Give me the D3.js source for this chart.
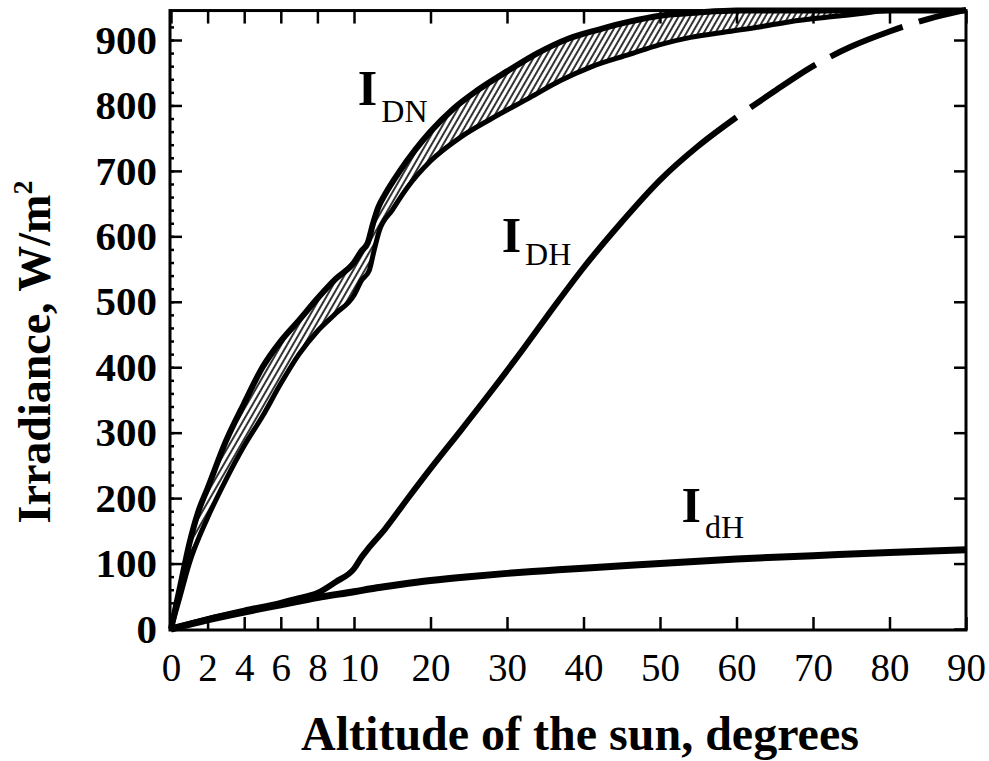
<!DOCTYPE html>
<html>
<head>
<meta charset="utf-8">
<script src="https://cdn.jsdelivr.net/npm/d3@7"></script>
<style>
  body { margin: 0; background: #fff; }
  text { font-family: "Liberation Serif", "Times New Roman", serif; fill: #000; }
</style>
</head>
<body>
<div id="chart"></div>
<script>
// tick values (x axis is stretched between 0 and 10 degrees)
const xTicks = [0, 2, 4, 6, 8, 10, 20, 30, 40, 50, 60, 70, 80, 90];
const yTicks = [0, 100, 200, 300, 400, 500, 600, 700, 800, 900];

// [altitude in degrees, irradiance W/m2]
const dnUpper = [[0,0],[0.5,65],[1,130],[1.5,180],[2,215],[3,287],[4,345],[5,400],[6,440],[7,472],[8,505],
  [9,535],[10,560],[11,578],[11.8,590],[12.5,620],[13.2,645],[14,663],[16,700],[18,732],[20,760],
  [23,795],[26,822],[30,852],[34,880],[38,902],[42,916],[46,928],[50,937],[55,942],[60,945],[90,945]];
const dnLower = [[0,0],[0.5,50],[1,100],[2,170],[3,228],[4,280],[5,325],[6,375],[7,420],[8,455],
  [9,482],[10,510],[11,533],[12,548],[12.6,577],[13.3,608],[15,640],[17,675],[20,715],[24,752],
  [28,780],[33,812],[37,838],[41,859],[46,878],[50,893],[54,904],[59,913],[63,920],[67,928],
  [72,935],[76,940],[80,945],[90,945]];
const dhDirect = [[0,0],[2,15],[4,28],[6,40],[7,47],[8,55],[9,72],[10,92],[11,110],[12,125],
  [14,152],[17,199],[20,245],[24,304],[28,364],[32,426],[36,490],[40,552],[45,622],[50,686],
  [55,738],[60,782],[65,822],[70,860],[75,890],[80,913],[85,932],[90,946]];
const dhDiffuse = [[0,0],[2,14],[4,26],[6,37],[8,48],[10,57],[13,63],[16,68],[20,74],[25,80],
  [30,85],[35,89],[40,93],[50,100],[60,107],[70,112],[80,117],[90,121]];

const curveLabels = [
  { sub: "DN", alt: 10.5, val: 801, dy: 17 },
  { sub: "DH", alt: 29.3, val: 576, dy: 13 },
  { sub: "dH", alt: 52.8, val: 163, dy: 16 }
];

const width = 989, height = 761;
const topVal = 945;

const x = d3.scaleLinear().domain([0, 10, 90]).range([171, 354, 966]);
const y = d3.scaleLinear().domain([0, 900]).range([629, 40]);

const svg = d3.select("#chart").append("svg")
  .attr("width", width)
  .attr("height", height);

const defs = svg.append("defs");
const pat = defs.append("pattern")
  .attr("id", "hatch")
  .attr("patternUnits", "userSpaceOnUse")
  .attr("width", 5).attr("height", 10)
  .attr("patternTransform", "rotate(30)");
pat.append("line")
  .attr("x1", 1).attr("y1", 0).attr("x2", 1).attr("y2", 10)
  .attr("stroke", "#000").attr("stroke-width", 1.6);

// clip = everything above the lower I_DN curve
defs.append("clipPath").attr("id", "aboveLow")
  .append("path")
  .attr("d", d3.area()
    .x(d => x(d[0]))
    .y0(y(topVal) - 5)
    .y1(d => y(d[1]))
    .curve(d3.curveMonotoneX)(dnLower));

svg.append("path")
  .attr("d", d3.area()
    .x(d => x(d[0]))
    .y0(y(0))
    .y1(d => y(d[1]))
    .curve(d3.curveMonotoneX)(dnUpper))
  .attr("fill", "url(#hatch)")
  .attr("clip-path", "url(#aboveLow)");

const line = d3.line()
  .x(d => x(d[0]))
  .y(d => y(d[1]))
  .curve(d3.curveMonotoneX);

function drawLine(data, w) {
  return svg.append("path")
    .attr("d", line(data))
    .attr("fill", "none")
    .attr("stroke", "#000")
    .attr("stroke-width", w)
    .attr("stroke-linejoin", "round");
}

drawLine(dnUpper, 6);
drawLine(dnLower, 5);
drawLine(dhDiffuse, 7);
drawLine(dhDirect.filter(d => d[0] <= 60), 6);
drawLine(dhDirect.filter(d => d[0] >= 60), 6)
  .attr("stroke-dasharray", "78,17")
  .attr("stroke-dashoffset", 78);

// axes, ticks pointing inwards
const gx = svg.append("g").attr("transform", `translate(0,${y(0) + 1})`)
  .call(d3.axisBottom(x).tickValues(xTicks).tickSize(-13).tickPadding(23).tickFormat(d3.format("d")));
gx.select(".domain").remove();
gx.selectAll("text").style("font-size", "39px").attr("dx", d => d === 10 ? 5 : 0);

svg.append("g").attr("transform", `translate(0,${y(topVal)})`)
  .call(d3.axisTop(x).tickValues(xTicks).tickSize(-13).tickFormat(""))
  .select(".domain").remove();

const gy = svg.append("g").attr("transform", "translate(170,0)")
  .call(d3.axisLeft(y).tickValues(yTicks).tickSize(-12).tickPadding(13));
gy.select(".domain").remove();
gy.selectAll("text").style("font-size", "41px").style("font-weight", "bold");

svg.append("g").attr("transform", "translate(170,0)")
  .call(d3.axisLeft(y).tickValues(d3.range(0, 940, 20)).tickSize(-4).tickFormat(""))
  .select(".domain").remove();

svg.append("g").attr("transform", "translate(966,0)")
  .call(d3.axisRight(y).tickValues(yTicks).tickSize(-12).tickFormat(""))
  .select(".domain").remove();

svg.selectAll(".tick line").attr("stroke", "#000").attr("stroke-width", 2.5);

// frame
svg.append("rect")
  .attr("x", 170).attr("y", y(topVal))
  .attr("width", 966 - 170).attr("height", y(0) + 1 - y(topVal))
  .attr("fill", "none").attr("stroke", "#000").attr("stroke-width", 3);

// curve labels
curveLabels.forEach(l => {
  const t = svg.append("text")
    .attr("x", x(l.alt)).attr("y", y(l.val));
  t.append("tspan").text("I")
    .style("font-size", "50px").style("font-weight", "bold");
  t.append("tspan").text(l.sub)
    .attr("dx", 4).attr("dy", l.dy)
    .style("font-size", "32px");
});

// axis titles
svg.append("text")
  .attr("x", 580).attr("y", 750)
  .attr("text-anchor", "middle")
  .style("font-size", "48px").style("font-weight", "bold")
  .text("Altitude of the sun, degrees");

const yt = svg.append("text")
  .attr("transform", "translate(50,352) rotate(-90)")
  .attr("text-anchor", "middle")
  .style("font-size", "46px").style("font-weight", "bold");
yt.append("tspan").text("Irradiance, W/m");
yt.append("tspan").text("2").attr("dy", -18).style("font-size", "28px");
</script>
</body>
</html>
